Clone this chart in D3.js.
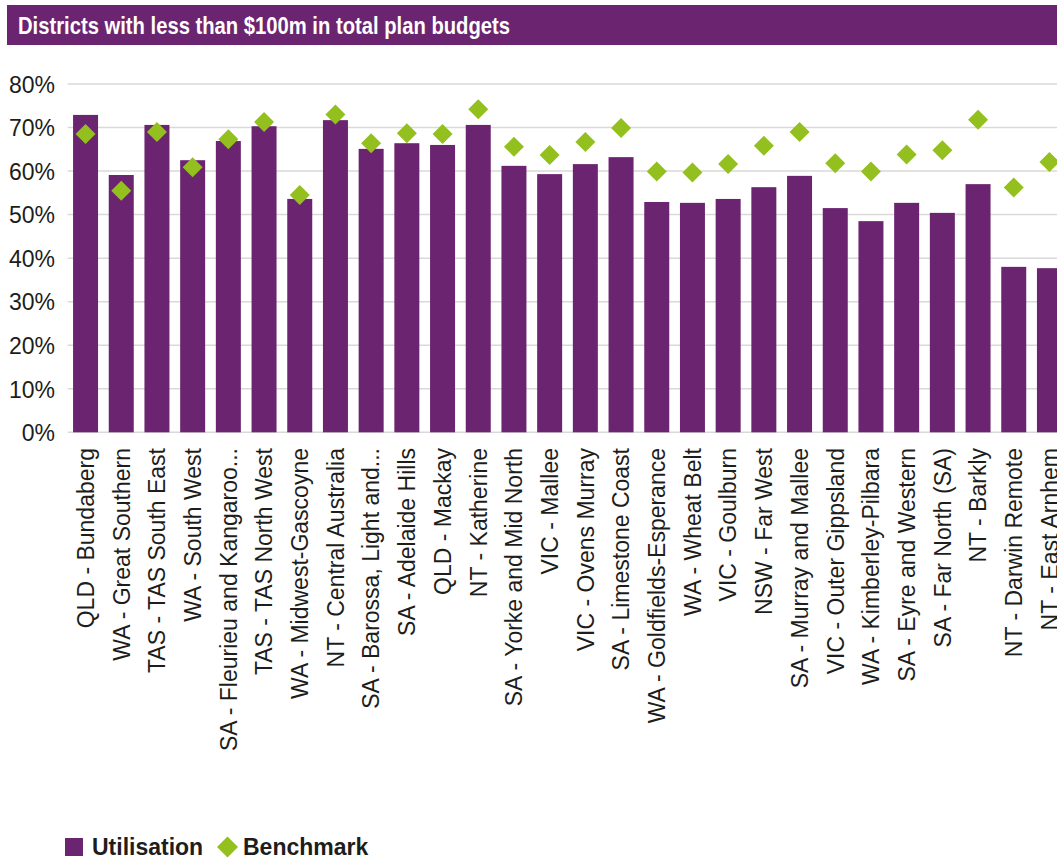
<!DOCTYPE html>
<html>
<head>
<meta charset="utf-8">
<script src="https://cdn.jsdelivr.net/npm/d3@7"></script>
<style>
  html, body { margin: 0; padding: 0; background: #fff; }
  svg { display: block; }
  text { font-family: "Liberation Sans", Arial, sans-serif; }
</style>
</head>
<body>
<svg id="chart" width="1057" height="859"></svg>
<script>
const title = "Districts with less than $100m in total plan budgets";

const districts = [
  "QLD - Bundaberg", "WA - Great Southern", "TAS - TAS South East", "WA - South West",
  "SA - Fleurieu and Kangaroo...", "TAS - TAS North West", "WA - Midwest-Gascoyne",
  "NT - Central Australia", "SA - Barossa, Light and...", "SA - Adelaide Hills",
  "QLD - Mackay", "NT - Katherine", "SA - Yorke and Mid North", "VIC - Mallee",
  "VIC - Ovens Murray", "SA - Limestone Coast", "WA - Goldfields-Esperance",
  "WA - Wheat Belt", "VIC - Goulburn", "NSW - Far West", "SA - Murray and Mallee",
  "VIC - Outer Gippsland", "WA - Kimberley-Pilbara", "SA - Eyre and Western",
  "SA - Far North (SA)", "NT - Barkly", "NT - Darwin Remote", "NT - East Arnhem"
];

const utilisation = [
  0.729, 0.591, 0.706, 0.625, 0.669, 0.703, 0.536, 0.717, 0.651, 0.664,
  0.660, 0.706, 0.612, 0.593, 0.616, 0.632, 0.529, 0.527, 0.536, 0.563,
  0.589, 0.515, 0.485, 0.527, 0.504, 0.570, 0.380, 0.377
];

const benchmark = [
  0.685, 0.555, 0.690, 0.609, 0.673, 0.713, 0.545, 0.730, 0.664, 0.687,
  0.685, 0.742, 0.656, 0.637, 0.667, 0.699, 0.599, 0.597, 0.616, 0.658,
  0.690, 0.618, 0.599, 0.638, 0.648, 0.718, 0.562, 0.621
];

const yTicks = [0, 0.1, 0.2, 0.3, 0.4, 0.5, 0.6, 0.7, 0.8];

const seriesNames = ["Utilisation", "Benchmark"];

const purple = "#6b2570";
const green = "#93c01f";
const ink = "#1d1d1b";

const svg = d3.select("#chart");

// Title band
svg.append("rect")
  .attr("x", 7).attr("y", 5)
  .attr("width", 1050).attr("height", 40)
  .attr("fill", purple);

svg.append("text")
  .attr("x", 18).attr("y", 33.5)
  .attr("fill", "#fff")
  .attr("font-weight", "bold")
  .attr("font-size", 24)
  .attr("textLength", 492)
  .attr("lengthAdjust", "spacingAndGlyphs")
  .text(title);

// Scales: the category band runs past the right edge, so the last bar is cut off
const step = 35.7;
const x0 = 67.7;
const x = d3.scaleBand()
  .domain(districts)
  .range([x0, x0 + step * districts.length])
  .paddingInner(0.3)
  .paddingOuter(0.15);

const y = d3.scaleLinear()
  .domain([0, 0.8])
  .range([432.3, 84]);

// Gridlines
svg.append("g")
  .selectAll("line")
  .data(yTicks)
  .join("line")
  .attr("x1", x0).attr("x2", 1057)
  .attr("y1", d => y(d)).attr("y2", d => y(d))
  .attr("stroke", "#d9d9d9")
  .attr("stroke-width", 1.5);

// Y axis labels
const yAxis = d3.axisLeft(y)
  .tickValues(yTicks)
  .tickFormat(d3.format(".0%"))
  .tickSize(0)
  .tickPadding(0);

svg.append("g")
  .attr("transform", "translate(55,0)")
  .call(yAxis)
  .call(g => g.select(".domain").remove())
  .call(g => g.selectAll("text")
    .attr("font-size", 23)
    .attr("fill", ink)
    .attr("font-family", "'Liberation Sans', Arial, sans-serif")
    .attr("dy", "0.36em"));

// Bars
svg.append("g")
  .selectAll("rect")
  .data(districts.map((d, i) => ({ d, v: utilisation[i] })))
  .join("rect")
  .attr("x", p => x(p.d))
  .attr("width", x.bandwidth())
  .attr("y", p => y(p.v))
  .attr("height", p => y(0) - y(p.v))
  .attr("fill", purple);

// Benchmark diamonds
const diamond = d3.symbol().type(d3.symbolSquare).size(200);
svg.append("g")
  .selectAll("path")
  .data(districts.map((d, i) => ({ d, v: benchmark[i] })))
  .join("path")
  .attr("d", diamond)
  .attr("transform", p =>
    `translate(${x(p.d) + x.bandwidth() / 2},${y(p.v)}) rotate(45)`)
  .attr("fill", green);

// Category labels (rotated)
const xAxis = d3.axisBottom(x).tickSize(0).tickPadding(0);
svg.append("g")
  .attr("transform", "translate(0,448)")
  .call(xAxis)
  .call(g => g.select(".domain").remove())
  .call(g => g.selectAll("text")
    .attr("font-size", 23)
    .attr("fill", ink)
    .attr("font-family", "'Liberation Sans', Arial, sans-serif")
    .attr("text-anchor", "end")
    .attr("transform", "rotate(-90)")
    .attr("x", 0)
    .attr("y", 0)
    .attr("dy", "0.36em"));

// Legend
const legend = svg.append("g");
legend.append("rect")
  .attr("x", 65).attr("y", 838)
  .attr("width", 18).attr("height", 18)
  .attr("fill", purple);
legend.append("text")
  .attr("x", 92).attr("y", 855)
  .attr("font-size", 23).attr("font-weight", "bold")
  .attr("fill", ink)
  .text(seriesNames[0]);
legend.append("path")
  .attr("d", d3.symbol().type(d3.symbolSquare).size(220))
  .attr("transform", "translate(227.5,847) rotate(45)")
  .attr("fill", green);
legend.append("text")
  .attr("x", 243).attr("y", 855)
  .attr("font-size", 23).attr("font-weight", "bold")
  .attr("fill", ink)
  .text(seriesNames[1]);
</script>
</body>
</html>
